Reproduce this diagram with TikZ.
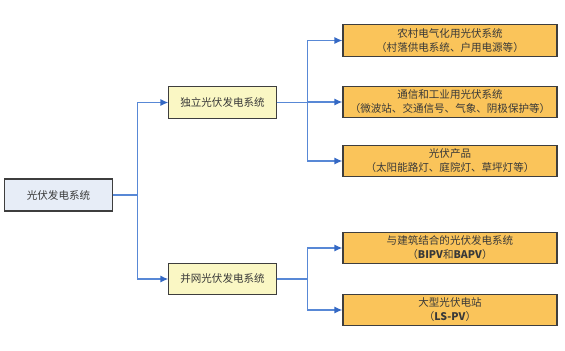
\documentclass[tikz,border=0pt]{standalone}
\usepackage{fontspec}
\setmainfont{Noto Sans CJK SC}
\usetikzlibrary{arrows.meta,positioning}
\definecolor{LineBlue}{RGB}{88,136,214}
\definecolor{TipBlue}{RGB}{52,104,196}
\definecolor{Frame}{RGB}{62,62,62}
\definecolor{RootFill}{RGB}{231,237,247}
\definecolor{MidFill}{RGB}{250,247,196}
\definecolor{LeafFill}{RGB}{250,196,90}
\definecolor{Ink}{RGB}{56,56,56}
\tikzset{
  >=Latex,
  box/.style={draw=Frame,line width=.8pt,align=center,text=Ink,font=\fontsize{7.5}{10}\selectfont,inner sep=0pt,minimum height=.78cm},
  rootbox/.style={box,fill=RootFill,minimum width=2.68cm,minimum height=.8cm},
  midbox/.style={box,fill=MidFill,minimum width=2.68cm},
  leafbox/.style={box,fill=LeafFill,minimum width=5.35cm},
  flow/.style={-{Latex[length=2mm,width=1.8mm,color=TipBlue]},line width=1pt,draw=LineBlue}
}

\begin{document}
\begin{tikzpicture}[x=0.025cm,y=-0.025cm]
  \useasboundingbox (0,0) rectangle (565,350);
  \node[rootbox] (root) at (58.5,195) {光伏发电系统};
  \node[midbox] (offgrid) at (222.5,102.5) {独立光伏发电系统};
  \node[midbox] (ongrid) at (222.5,279) {并网光伏发电系统};
  \node[leafbox] (rural) at (450,40.5) {农村电气化用光伏系统\\（村落供电系统、户用电源等）};
  \node[leafbox] (telecom) at (450,102) {通信和工业用光伏系统\\（微波站、交通信号、气象、阴极保护等）};
  \node[leafbox] (product) at (450,161) {光伏产品\\（太阳能路灯、庭院灯、草坪灯等）};
  \node[leafbox] (bipv) at (450,248) {与建筑结合的光伏发电系统\\（\textbf{BIPV}和\textbf{BAPV}）};
  \node[leafbox] (lspv) at (450,310) {大型光伏电站\\（\textbf{LS-PV}）};
  \draw[flow] (root.east) -- ++(25,0) |- (offgrid.west);
  \draw[flow] (root.east) -- ++(25,0) |- (ongrid.west);
  \draw[flow] (offgrid.east) -- ++(31,0) |- (rural.west);
  \draw[flow] (offgrid.east) -- ++(31,0) |- (telecom.west);
  \draw[flow] (offgrid.east) -- ++(31,0) |- (product.west);
  \draw[flow] (ongrid.east) -- ++(31,0) |- (bipv.west);
  \draw[flow] (ongrid.east) -- ++(31,0) |- (lspv.west);
\end{tikzpicture}
\end{document}
